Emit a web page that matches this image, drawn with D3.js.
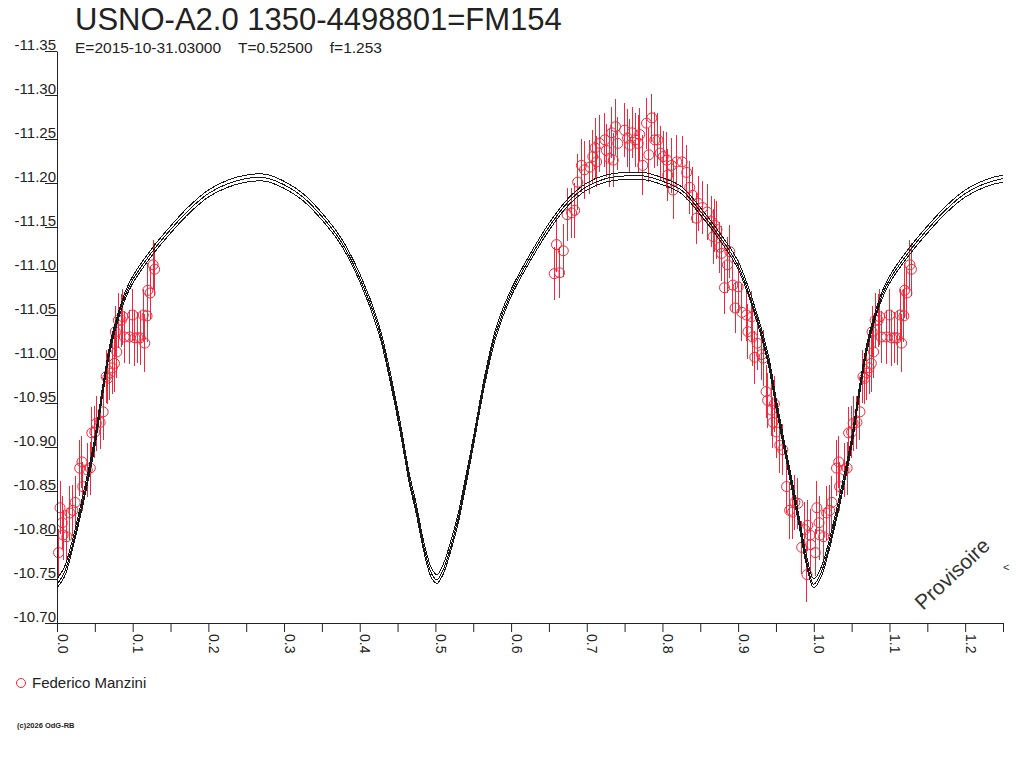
<!DOCTYPE html>
<html><head><meta charset="utf-8">
<script src="https://cdn.jsdelivr.net/npm/d3@7"></script>
<style>
html,body{margin:0;padding:0;background:#fff;}
svg{display:block;font-family:"Liberation Sans",Arial,sans-serif;}
</style></head><body>
<svg id="c" width="1024" height="768"></svg>
<script>
// ---------- data ----------
const titleText = "USNO-A2.0 1350-4498801=FM154";
const subtitleText = "E=2015-10-31.03000    T=0.52500    f=1.253";
const observer = "Federico Manzini";
const copyright = "(c)2026 OdG-RB";
const watermark = "Provisoire";

const yTicks = [-11.35,-11.30,-11.25,-11.20,-11.15,-11.10,-11.05,-11.00,-10.95,-10.90,-10.85,-10.80,-10.75,-10.70];
const xTicks = [0,0.05,0.1,0.15,0.2,0.25,0.3,0.35,0.4,0.45,0.5,0.55,0.6,0.65,0.7,0.75,0.8,0.85,0.9,0.95,1.0,1.05,1.1,1.15,1.2,1.25];
const xTickLabels = ["0.0","","0.1","","0.2","","0.3","","0.4","","0.5","","0.6","","0.7","","0.8","","0.9","","1.0","","1.1","","1.2",""];

// model light curves (phase 0..1)
const modelPhase = [0.000,0.010,0.020,0.030,0.040,0.050,0.060,0.070,0.080,0.090,0.100,0.125,0.150,0.175,0.200,0.225,0.250,0.275,0.300,0.325,0.350,0.375,0.400,0.425,0.440,0.455,0.465,0.475,0.485,0.495,0.502,0.510,0.520,0.530,0.540,0.550,0.565,0.580,0.600,0.625,0.650,0.675,0.700,0.725,0.750,0.775,0.800,0.825,0.850,0.875,0.900,0.925,0.940,0.950,0.960,0.970,0.980,0.990,1.000];
const modelMid = [-10.744,-10.758,-10.787,-10.823,-10.862,-10.905,-10.962,-11.012,-11.046,-11.072,-11.090,-11.121,-11.147,-11.170,-11.188,-11.199,-11.205,-11.206,-11.198,-11.184,-11.162,-11.134,-11.092,-11.035,-10.980,-10.915,-10.866,-10.828,-10.785,-10.756,-10.749,-10.760,-10.786,-10.818,-10.860,-10.905,-10.975,-11.030,-11.075,-11.115,-11.150,-11.178,-11.196,-11.205,-11.208,-11.208,-11.202,-11.192,-11.168,-11.140,-11.106,-11.046,-10.998,-10.950,-10.905,-10.862,-10.818,-10.772,-10.744];
const modelUpper = [-10.750,-10.764,-10.793,-10.829,-10.868,-10.911,-10.967,-11.017,-11.050,-11.076,-11.094,-11.125,-11.151,-11.174,-11.192,-11.203,-11.209,-11.210,-11.202,-11.188,-11.166,-11.138,-11.097,-11.040,-10.986,-10.921,-10.872,-10.834,-10.791,-10.762,-10.755,-10.766,-10.792,-10.824,-10.866,-10.910,-10.980,-11.035,-11.079,-11.119,-11.154,-11.182,-11.200,-11.209,-11.212,-11.212,-11.206,-11.196,-11.172,-11.144,-11.111,-11.051,-11.004,-10.956,-10.911,-10.868,-10.824,-10.778,-10.750];
const modelLower = [-10.740,-10.753,-10.782,-10.818,-10.857,-10.900,-10.957,-11.008,-11.042,-11.068,-11.086,-11.117,-11.143,-11.166,-11.184,-11.195,-11.201,-11.202,-11.194,-11.180,-11.158,-11.130,-11.088,-11.030,-10.975,-10.910,-10.861,-10.823,-10.780,-10.751,-10.745,-10.755,-10.781,-10.813,-10.855,-10.900,-10.970,-11.025,-11.071,-11.111,-11.146,-11.174,-11.192,-11.201,-11.204,-11.204,-11.198,-11.188,-11.164,-11.136,-11.102,-11.042,-10.993,-10.945,-10.900,-10.857,-10.813,-10.767,-10.740];

// observations (phase folded, 0..1)
const obsPhase = [0.002,0.004,0.007,0.008,0.013,0.017,0.021,0.024,0.030,0.033,0.034,0.040,0.044,0.046,0.050,0.052,0.057,0.061,0.065,0.067,0.070,0.073,0.076,0.079,0.077,0.081,0.085,0.087,0.089,0.096,0.100,0.103,0.107,0.110,0.114,0.116,0.119,0.120,0.123,0.127,0.129,
0.657,0.660,0.664,0.669,0.674,0.680,0.684,0.688,0.693,0.697,0.704,0.708,0.711,0.713,0.717,0.724,0.726,0.730,0.733,0.735,0.738,0.741,0.750,0.754,0.757,0.760,0.764,0.768,0.770,0.774,0.779,0.782,0.786,0.790,0.794,0.797,0.801,0.806,0.807,0.812,0.814,0.819,0.826,0.832,0.836,0.840,0.845,0.847,0.853,0.859,0.865,0.867,0.869,0.872,0.876,0.878,0.882,0.886,0.889,0.893,0.896,0.900,0.905,0.911,0.913,0.918,0.919,0.922,0.925,0.931,0.933,0.937,0.939,0.944,0.946,0.948,0.951,0.955,0.959,0.964,0.968,0.972,0.975,0.979,0.984,0.988,0.991,0.992,0.995,0.996];
const obsMag = [-10.780,-10.831,-10.814,-10.800,-10.798,-10.825,-10.828,-10.837,-10.876,-10.883,-10.855,-10.874,-10.876,-10.916,-10.917,-10.927,-10.928,-10.940,-10.980,-10.978,-10.984,-10.990,-10.995,-11.008,-11.031,-11.044,-11.044,-11.048,-11.025,-11.025,-11.050,-11.024,-11.024,-11.024,-11.050,-11.018,-11.049,-11.078,-11.075,-11.107,-11.102,
-11.097,-11.130,-11.098,-11.123,-11.164,-11.166,-11.169,-11.201,-11.220,-11.215,-11.218,-11.230,-11.240,-11.224,-11.245,-11.249,-11.237,-11.228,-11.257,-11.226,-11.264,-11.245,-11.260,-11.251,-11.243,-11.257,-11.249,-11.245,-11.255,-11.220,-11.268,-11.232,-11.274,-11.249,-11.249,-11.234,-11.230,-11.226,-11.209,-11.220,-11.192,-11.224,-11.224,-11.212,-11.195,-11.186,-11.160,-11.177,-11.172,-11.167,-11.156,-11.139,-11.152,-11.147,-11.127,-11.120,-11.081,-11.107,-11.122,-11.084,-11.058,-11.082,-11.053,-11.050,-11.031,-11.048,-11.025,-11.002,-11.018,-11.005,-11.001,-10.963,-10.953,-10.942,-10.928,-10.949,-10.917,-10.902,-10.897,-10.855,-10.828,-10.826,-10.837,-10.836,-10.786,-10.806,-10.755,-10.811,-10.800,-10.789];
const obsErr = [0.027,0.030,0.030,0.028,0.030,0.031,0.029,0.030,0.032,0.030,0.028,0.031,0.030,0.029,0.030,0.031,0.030,0.032,0.030,0.029,0.031,0.030,0.032,0.030,0.029,0.031,0.030,0.032,0.030,0.031,0.030,0.032,0.029,0.031,0.030,0.033,0.030,0.031,0.029,0.028,0.030,
0.030,0.031,0.029,0.030,0.030,0.028,0.031,0.032,0.030,0.033,0.031,0.030,0.034,0.029,0.032,0.031,0.030,0.033,0.029,0.031,0.032,0.030,0.031,0.033,0.030,0.029,0.031,0.032,0.030,0.034,0.029,0.031,0.027,0.032,0.030,0.031,0.029,0.032,0.030,0.031,0.033,0.030,0.029,0.031,0.030,0.032,0.029,0.031,0.030,0.032,0.029,0.031,0.030,0.033,0.029,0.031,0.030,0.032,0.030,0.031,0.029,0.030,0.032,0.030,0.031,0.029,0.033,0.030,0.031,0.029,0.032,0.030,0.031,0.030,0.029,0.032,0.030,0.031,0.029,0.030,0.032,0.030,0.031,0.029,0.030,0.032,0.031,0.029,0.030,0.030,0.029,0.031,0.030];

// ---------- chart ----------
const svg = d3.select("#c");
const ink = "#222";
const red = "#f0283a";
const x = d3.scaleLinear().domain([0, 1.25]).range([57, 1003]);
const y = d3.scaleLinear().domain([-10.70, -11.35]).range([623, 51]);

svg.append("defs").append("clipPath").attr("id","plot")
  .append("rect").attr("x",57).attr("y",0).attr("width",946).attr("height",640);

// observations (with phase+1 copies inside the range)
const obs = [];
obsPhase.forEach((p,i) => {
  obs.push({p:p, m:obsMag[i], e:obsErr[i]});
  if (p + 1 <= 1.25) obs.push({p:p+1, m:obsMag[i], e:obsErr[i]});
});
const gObs = svg.append("g");
gObs.selectAll("line.err").data(obs).join("line").attr("class","err")
  .attr("x1", d => x(d.p)).attr("x2", d => x(d.p))
  .attr("y1", d => y(d.m - d.e)).attr("y2", d => y(d.m + d.e))
  .attr("stroke", red).attr("stroke-width", 1).attr("shape-rendering","crispEdges");
gObs.selectAll("circle").data(obs).join("circle")
  .attr("cx", d => x(d.p)).attr("cy", d => y(d.m)).attr("r", 5)
  .attr("fill","none").attr("stroke", red).attr("stroke-width", 1);

// model curves
function curvePts(vals){
  const pts = modelPhase.map((p,i)=>[p, vals[i]]);
  modelPhase.forEach((p,i)=>{ if (p > 0 && p <= 0.3) pts.push([p+1, vals[i]]); });
  return pts;
}
const line = d3.line().x(d=>x(d[0])).y(d=>y(d[1])).curve(d3.curveCatmullRom.alpha(0.5));
const gModel = svg.append("g").attr("clip-path","url(#plot)");
[modelUpper, modelMid, modelLower].forEach(vals => {
  gModel.append("path").attr("d", line(curvePts(vals)))
    .attr("fill","none").attr("stroke", "#1a1a1a").attr("stroke-width", 1)
    .attr("shape-rendering","crispEdges");
});

// axes
const yAxis = svg.append("g").attr("transform","translate(57,0)")
  .call(d3.axisLeft(y).tickValues(yTicks).tickSize(12).tickSizeOuter(0).tickFormat(d => d.toFixed(2)));
yAxis.attr("font-family", null).attr("font-size", 15).attr("color", ink);
yAxis.selectAll(".tick text").attr("x", -1).attr("dy", 0).attr("y", -2).attr("fill", ink);

const xAxis = svg.append("g").attr("transform","translate(0,623)")
  .call(d3.axisBottom(x).tickValues(xTicks).tickSize(9).tickSizeOuter(0).tickFormat((d,i) => xTickLabels[i]));
xAxis.attr("font-family", null).attr("font-size", 14).attr("color", ink);
xAxis.selectAll(".tick text").attr("x",0).attr("y",0).attr("dy",0)
  .attr("text-anchor","start").attr("transform","translate(0,11) rotate(90)").attr("fill", ink);
svg.selectAll(".domain, .tick line").attr("stroke", ink);

// titles
svg.append("text").attr("x",75).attr("y",30).attr("font-size",31).attr("fill",ink).text(titleText);
svg.append("text").attr("x",75).attr("y",53).attr("font-size",15.5).attr("fill",ink)
  .attr("xml:space","preserve").style("white-space","pre").text(subtitleText);

// legend
svg.append("circle").attr("cx",21).attr("cy",683).attr("r",4.5).attr("fill","none").attr("stroke",red);
svg.append("text").attr("x",32).attr("y",688).attr("font-size",15).attr("fill",ink).text(observer);

// copyright
svg.append("text").attr("x",17).attr("y",728).attr("font-size",7.5).attr("font-weight","bold").attr("fill",ink).text(copyright);

// watermark
svg.append("text").attr("transform","translate(923,611) rotate(-43)").attr("font-size",21).attr("fill","#333").text(watermark);
svg.append("text").attr("x",1003).attr("y",571).attr("font-size",11).attr("fill","#333").text("<");
</script></body></html>
